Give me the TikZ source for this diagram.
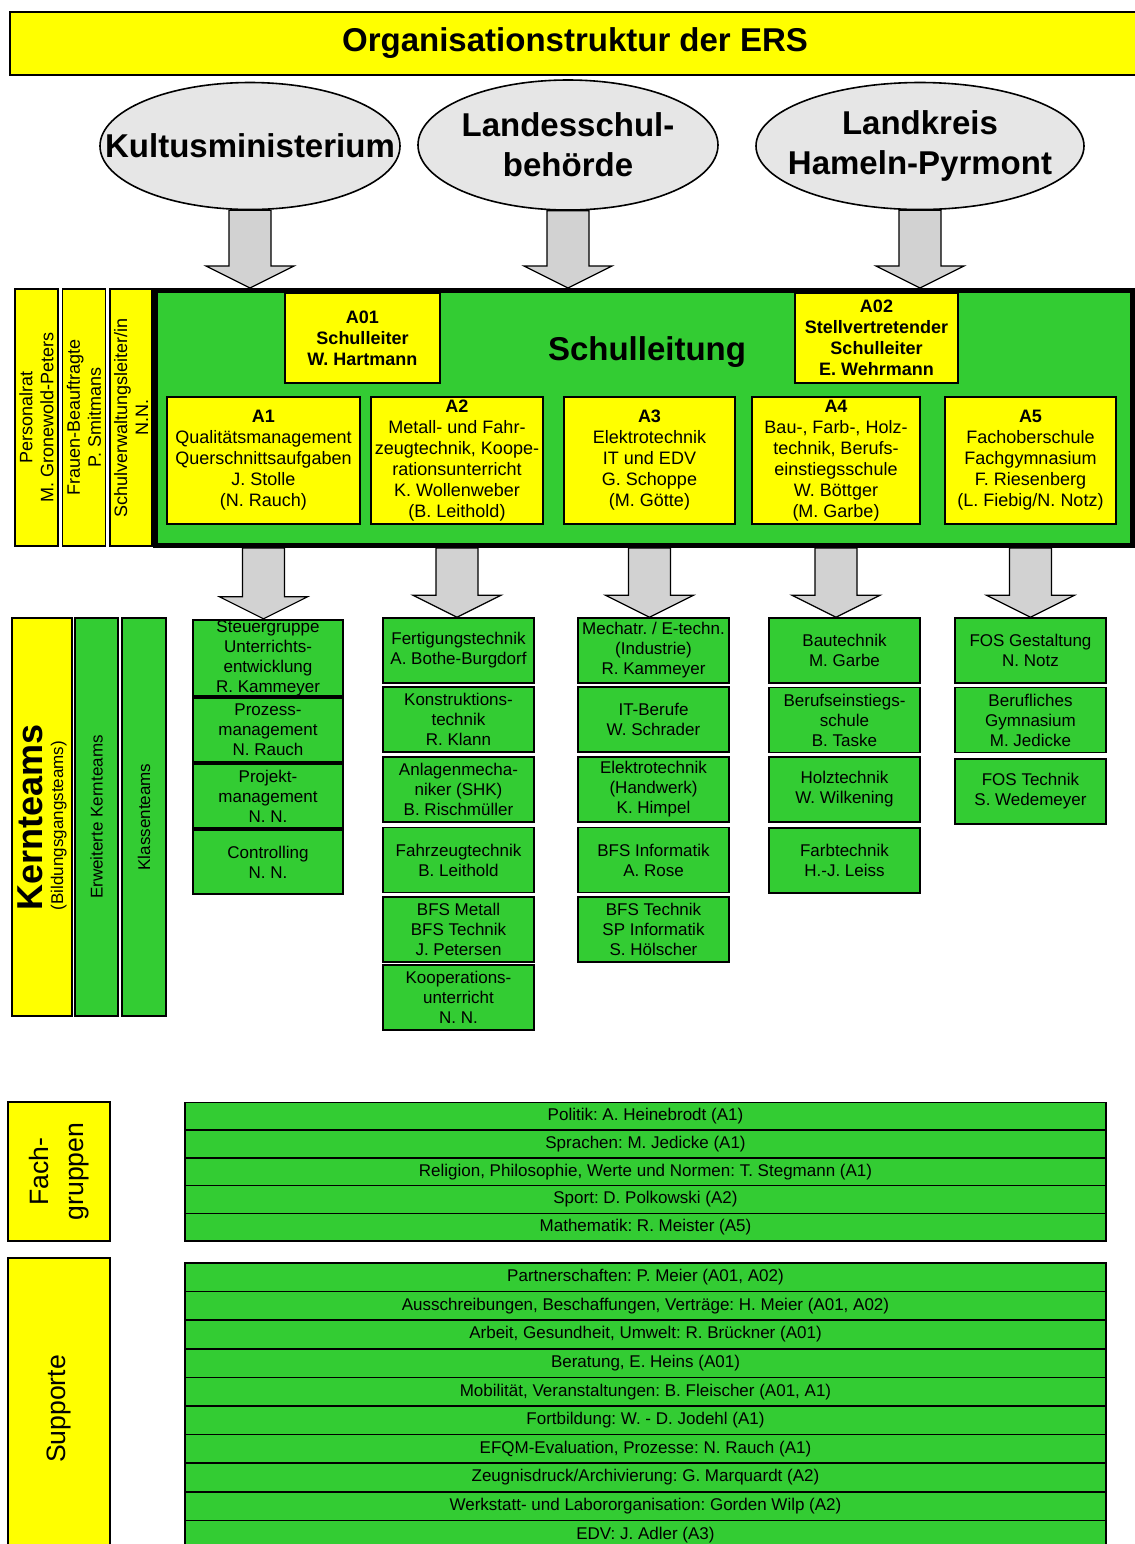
\documentclass[tikz,border=0pt]{standalone}
\usepackage{fontspec}
\setmainfont{Liberation Sans}
\usetikzlibrary{shapes.geometric,calc}
\frenchspacing

\definecolor{ersgelb}{RGB}{255,255,0}
\definecolor{ersgruen}{RGB}{51,204,51}
\definecolor{ersgrau}{RGB}{230,230,230}

% block arrow from #1 (top of shaft) down to #2 (tip)
\newcommand{\blockpfeil}[2]{%
  \draw[pfeil] ($(#1)+(-21,0)$) -- ($(#2)+(-21,-22)$) -- ($(#2)+(-44,-22)$) -- (#2)
    -- ($(#2)+(44,-22)$) -- ($(#2)+(21,-22)$) -- ($(#1)+(21,0)$) -- cycle;}

\begin{document}
\begin{tikzpicture}[x=0.5pt,y=-0.5pt,
  gelb/.style={draw, fill=ersgelb, line width=0.8pt, inner sep=0pt, align=center, font=\fontsize{9}{10.5}\selectfont},
  gruen/.style={draw, fill=ersgruen, line width=0.8pt, inner sep=0pt, align=center, font=\fontsize{8.5}{10}\selectfont, minimum width=75.5pt, minimum height=32.5pt},
  zeile/.style={draw, fill=ersgruen, line width=0.8pt, inner sep=0pt, minimum width=460.5pt, font=\fontsize{8.5}{10}\selectfont},
  amt/.style={ellipse, draw, fill=ersgrau, line width=0.8pt, inner sep=0pt},
  amttext/.style={align=center, font=\bfseries\fontsize{16.5}{20}\selectfont},
  pfeil/.style={draw, fill=gray!35, line width=0.6pt}]
\useasboundingbox (0,0) rectangle (1135,1544);

% title
\node[gelb, minimum width=565pt, minimum height=31.5pt, font=\bfseries\fontsize{16.5}{20}\selectfont] (titel) at (575,43.5) {Organisationstruktur der ERS};

% authorities
\node[amt, minimum width=150pt, minimum height=63.5pt] (kult) at (250,146) {};
\node[amttext] (kulttxt) at (kult.center) {Kultusministerium};
\node[amt, minimum width=150pt, minimum height=65pt] (lsb) at (568,145) {};
\node[amttext] (lsbtxt) at (lsb.center) {Landesschul-\\behörde};
\node[amt, minimum width=164pt, minimum height=63.5pt] (lk) at (920,146) {};
\node[amttext] (lktxt) at (lk.center) {Landkreis\\Hameln-Pyrmont};

% side boxes
\node[gelb, rotate=90, minimum width=128.5pt, minimum height=21.5pt] (prat) at (36.5,417.5) {Personalrat\\M. Gronewold-Peters};
\node[gelb, rotate=90, minimum width=128.5pt, minimum height=21.5pt] (frau) at (84,417.5) {Frauen-Beauftragte\\P. Smitmans};
\node[gelb, rotate=90, minimum width=128.5pt, minimum height=21pt] (verw) at (131,417.5) {Schulverwaltungsleiter/in\\N.N.};

% Schulleitung
\node[draw, fill=ersgruen, line width=2.5pt, minimum width=488.5pt, minimum height=127.5pt] (sl) at (644,418) {};
\node[font=\bfseries\fontsize{16.5}{20}\selectfont] (sltxt) at (647,352) {Schulleitung};
\node[gelb, font=\bfseries\fontsize{9}{10.5}\selectfont, minimum width=77.5pt, minimum height=45pt] (a01) at (362.5,338) {A01\\Schulleiter\\W. Hartmann};
\node[gelb, font=\bfseries\fontsize{9}{10.5}\selectfont, minimum width=81.5pt, minimum height=45pt] (a02) at (876.5,338) {A02\\Stellvertretender\\Schulleiter\\E. Wehrmann};
\node[gelb, minimum width=96.5pt, minimum height=63.5pt] (a1) at (263.5,460.5) {\textbf{A1}\\Qualitätsmanagement\\Querschnittsaufgaben\\J. Stolle\\(N. Rauch)};
\node[gelb, minimum width=86pt, minimum height=63.5pt] (a2) at (457,460.5) {\textbf{A2}\\Metall- und Fahr-\\zeugtechnik, Koope-\\rationsunterricht\\K. Wollenweber\\(B. Leithold)};
\node[gelb, minimum width=85.5pt, minimum height=63.5pt] (a3) at (649.5,460.5) {\textbf{A3}\\Elektrotechnik\\IT und EDV\\G. Schoppe\\(M. Götte)};
\node[gelb, minimum width=84pt, minimum height=63.5pt] (a4) at (836,460.5) {\textbf{A4}\\Bau-, Farb-, Holz-\\technik, Berufs-\\einstiegsschule\\W. Böttger\\(M. Garbe)};
\node[gelb, minimum width=85.5pt, minimum height=63.5pt] (a5) at (1030.5,460.5) {\textbf{A5}\\Fachoberschule\\Fachgymnasium\\F. Riesenberg\\(L. Fiebig/N. Notz)};

% Kernteams
\node[gelb, rotate=90, minimum width=199pt, minimum height=30pt, align=left] (kern) at (42,817) {{\bfseries\fontsize{18}{18}\selectfont Kernteams}\\{\fontsize{8.5}{12}\selectfont(Bildungsgangsteams)}};
\node[gruen, rotate=90, minimum width=199pt, minimum height=21.5pt] (erw) at (96.5,817) {Erweiterte Kernteams};
\node[gruen, rotate=90, minimum width=199pt, minimum height=22pt] (klasse) at (144,817) {Klassenteams};

% column A1
\node[gruen, line width=1.2pt, minimum width=75pt, minimum height=38pt] (t11) at (268,658) {Steuergruppe\\Unterrichts-\\entwicklung\\R. Kammeyer};
\node[gruen, line width=1.2pt, minimum width=75pt, minimum height=32pt] (t12) at (268,730) {Prozess-\\management\\N. Rauch};
\node[gruen, line width=1.2pt, minimum width=75pt, minimum height=32pt] (t13) at (268,796) {Projekt-\\management\\N. N.};
\node[gruen, line width=1.2pt, minimum width=75pt, minimum height=32pt] (t14) at (268,862) {Controlling\\N. N.};

% column A2
\node[gruen] (t21) at (458.5,650.5) {Fertigungstechnik\\A. Bothe-Burgdorf};
\node[gruen] (t22) at (458.5,719.5) {Konstruktions-\\technik\\R. Klann};
\node[gruen] (t23) at (458.5,789.5) {Anlagenmecha-\\niker (SHK)\\B. Rischmüller};
\node[gruen] (t24) at (458.5,860) {Fahrzeugtechnik\\B. Leithold};
\node[gruen] (t25) at (458.5,929.5) {BFS Metall\\BFS Technik\\J. Petersen};
\node[gruen] (t26) at (458.5,997.5) {Kooperations-\\unterricht\\N. N.};

% column A3
\node[gruen] (t31) at (653.5,650.5) {Mechatr. / E-techn.\\(Industrie)\\R. Kammeyer};
\node[gruen] (t32) at (653.5,719.5) {IT-Berufe\\W. Schrader};
\node[gruen] (t33) at (653.5,789.5) {Elektrotechnik\\(Handwerk)\\K. Himpel};
\node[gruen] (t34) at (653.5,860) {BFS Informatik\\A. Rose};
\node[gruen] (t35) at (653.5,929.5) {BFS Technik\\SP Informatik\\S. Hölscher};

% column A4
\node[gruen] (t41) at (844.5,650.5) {Bautechnik\\M. Garbe};
\node[gruen] (t42) at (844.5,720) {Berufseinstiegs-\\schule\\B. Taske};
\node[gruen] (t43) at (844.5,789.5) {Holztechnik\\W. Wilkening};
\node[gruen] (t44) at (844.5,860.5) {Farbtechnik\\H.-J. Leiss};

% column A5
\node[gruen] (t51) at (1030.5,650.5) {FOS Gestaltung\\N. Notz};
\node[gruen] (t52) at (1030.5,720) {Berufliches\\Gymnasium\\M. Jedicke};
\node[gruen] (t53) at (1030.5,791.5) {FOS Technik\\S. Wedemeyer};

% arrows
\coordinate (k1) at (kult.south);
\coordinate (k2) at (kult.south |- sl.north);
\coordinate (l1) at (lsb.south);
\coordinate (l2) at (lsb.south |- sl.north);
\coordinate (h1) at (lk.south);
\coordinate (h2) at (lk.south |- sl.north);
\blockpfeil{k1}{k2}
\blockpfeil{l1}{l2}
\blockpfeil{h1}{h2}
\coordinate (s11) at (a1 |- sl.south);
\coordinate (s12) at (a1 |- t11.north);
\coordinate (s21) at (a2 |- sl.south);
\coordinate (s22) at (a2 |- t21.north);
\coordinate (s31) at (a3 |- sl.south);
\coordinate (s32) at (a3 |- t31.north);
\coordinate (s41) at (a4 |- sl.south);
\coordinate (s42) at (a4 |- t41.north);
\coordinate (s51) at (a5 |- sl.south);
\coordinate (s52) at (a5 |- t51.north);
\blockpfeil{s11}{s12}
\blockpfeil{s21}{s22}
\blockpfeil{s31}{s32}
\blockpfeil{s41}{s42}
\blockpfeil{s51}{s52}

% Fachgruppen
\node[gelb, rotate=90, minimum width=69.5pt, minimum height=51pt, font=\fontsize{13.3}{17.5}\selectfont] (fach) at (59,1171.5) {Fach-\\gruppen};
\node[zeile, minimum height=13.85pt] (f1) at (645.5,1116.35) {Politik: A. Heinebrodt (A1)};
\node[zeile, minimum height=13.85pt] (f2) at (645.5,1144.05) {Sprachen: M. Jedicke (A1)};
\node[zeile, minimum height=13.85pt] (f3) at (645.5,1171.75) {Religion, Philosophie, Werte und Normen: T. Stegmann (A1)};
\node[zeile, minimum height=13.85pt] (f4) at (645.5,1199.45) {Sport: D. Polkowski (A2)};
\node[zeile, minimum height=13.85pt] (f5) at (645.5,1227.15) {Mathematik: R. Meister (A5)};

% Supporte
\node[gelb, rotate=90, minimum width=151pt, minimum height=51pt, font=\fontsize{13.3}{16}\selectfont] (supp) at (59,1409) {Supporte};
\node[zeile, minimum height=14.3pt] (s1) at (645.5,1277.3) {Partnerschaften: P. Meier (A01, A02)};
\node[zeile, minimum height=14.3pt] (s2) at (645.5,1305.9) {Ausschreibungen, Beschaffungen, Verträge: H. Meier (A01, A02)};
\node[zeile, minimum height=14.3pt] (s3) at (645.5,1334.5) {Arbeit, Gesundheit, Umwelt: R. Brückner (A01)};
\node[zeile, minimum height=14.3pt] (s4) at (645.5,1363.1) {Beratung, E. Heins (A01)};
\node[zeile, minimum height=14.3pt] (s5) at (645.5,1391.7) {Mobilität, Veranstaltungen: B. Fleischer (A01, A1)};
\node[zeile, minimum height=14.3pt] (s6) at (645.5,1420.3) {Fortbildung: W. - D. Jodehl (A1)};
\node[zeile, minimum height=14.3pt] (s7) at (645.5,1448.9) {EFQM-Evaluation, Prozesse: N. Rauch (A1)};
\node[zeile, minimum height=14.3pt] (s8) at (645.5,1477.5) {Zeugnisdruck/Archivierung: G. Marquardt (A2)};
\node[zeile, minimum height=14.3pt] (s9) at (645.5,1506.1) {Werkstatt- und Labororganisation: Gorden Wilp (A2)};
\node[zeile, minimum height=14.3pt] (s10) at (645.5,1534.7) {EDV: J. Adler (A3)};
\end{tikzpicture}
\end{document}
